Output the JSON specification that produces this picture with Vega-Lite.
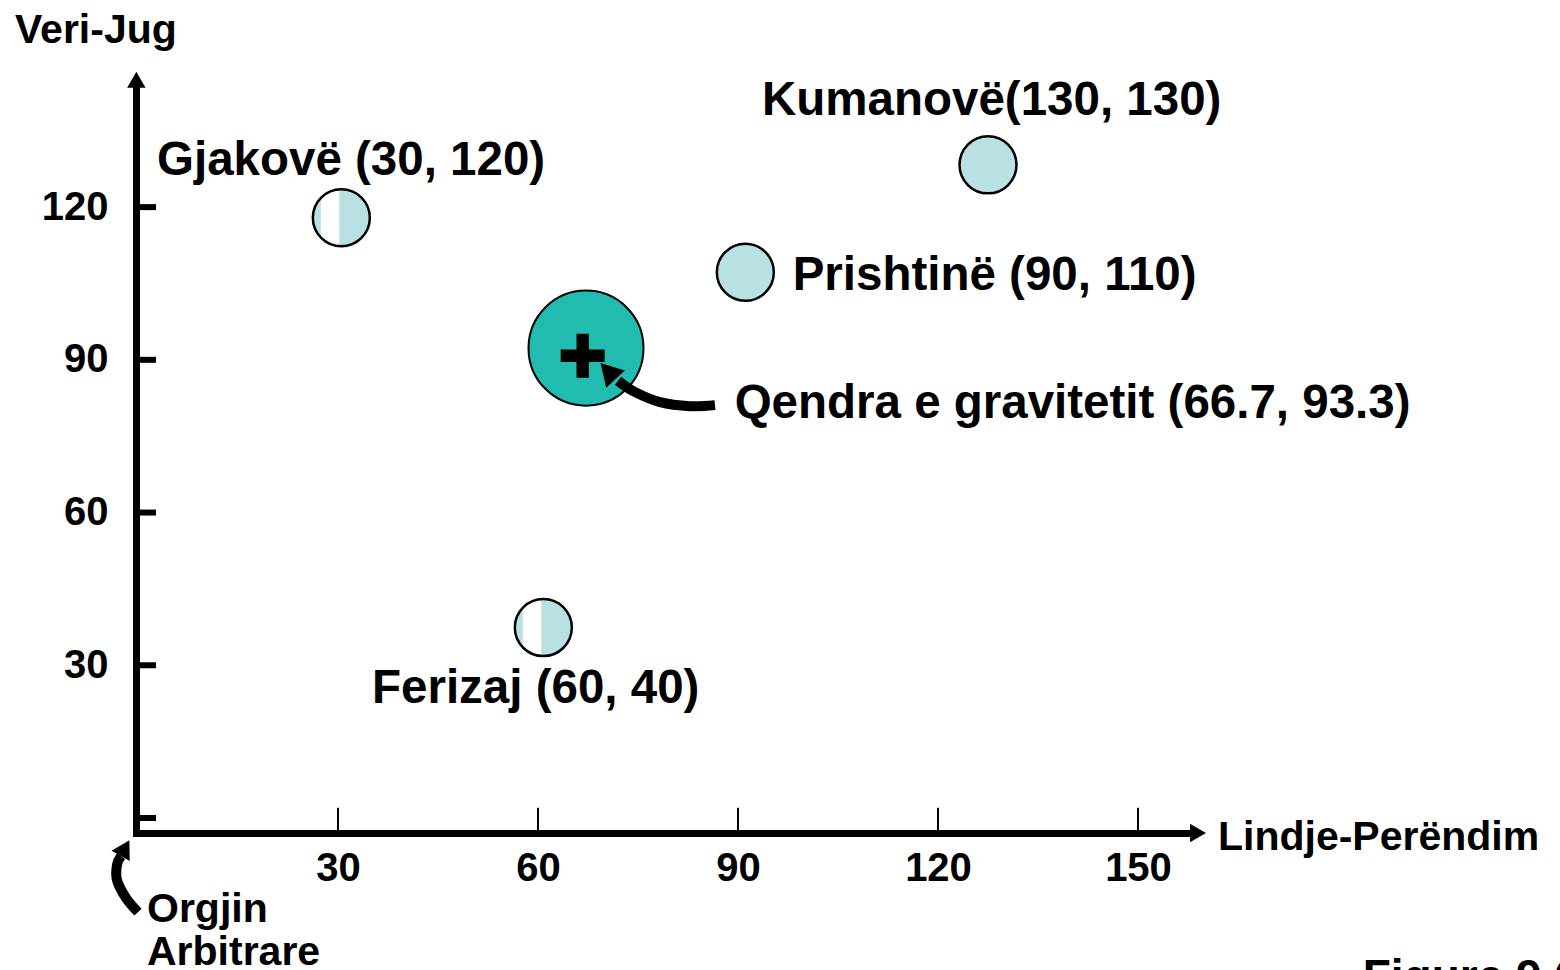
{
  "$schema": "https://vega.github.io/schema/vega-lite/v6.json",
  "width": 1054,
  "height": 745,
  "autosize": {"type": "none"},
  "padding": {"left": 136, "top": 88, "right": 370, "bottom": 137},
  "background": "white",
  "config": {"view": {"stroke": null}, "font": "Liberation Sans"},
  "encoding": {
    "x": {
      "field": "x", "type": "quantitative", "title": null,
      "scale": {"domain": [-0.3, 157.8], "nice": false, "zero": false},
      "axis": {"values": [30, 60, 90, 120, 150], "ticks": false, "tickSize": 0, "grid": false, "title": null,
        "domainWidth": 7, "domainColor": "black", "domainCap": "square",
        "labelFont": "Liberation Sans", "labelFontSize": 40, "labelFontWeight": "bold", "labelColor": "black",
        "labelPadding": 15, "labelFlush": false, "labelOverlap": false}
    },
    "y": {
      "field": "y", "type": "quantitative", "title": null,
      "scale": {"domain": [-2.95, 143.4], "nice": false, "zero": false},
      "axis": {"values": [30, 60, 90, 120], "ticks": false, "tickSize": 0, "grid": false, "title": null,
        "domainWidth": 7, "domainColor": "black", "domainCap": "square",
        "labelFont": "Liberation Sans", "labelFontSize": 40, "labelFontWeight": "bold", "labelColor": "black",
        "labelPadding": 28, "labelFlush": false, "labelOverlap": false}
    }
  },
  "layer": [
    {
      "data": {"values": [
        {"x": 30, "y": -2.95}, {"x": 60, "y": -2.95}, {"x": 90, "y": -2.95},
        {"x": 120, "y": -2.95}, {"x": 150, "y": -2.95}
      ]},
      "mark": {"type": "rule", "color": "black", "strokeWidth": 2},
      "encoding": {"y2": {"datum": 2.0}}
    },
    {
      "data": {"values": [
        {"x": -0.3, "y": 0}, {"x": -0.3, "y": 30}, {"x": -0.3, "y": 60},
        {"x": -0.3, "y": 90}, {"x": -0.3, "y": 120}
      ]},
      "mark": {"type": "rule", "color": "black", "strokeWidth": 6},
      "encoding": {"x2": {"datum": 2.7}}
    },
    {
      "data": {"values": [{"x": -0.25, "y": 145.0, "dir": "up"}, {"x": 159.0, "y": -2.95, "dir": "right"}]},
      "mark": {"type": "point", "filled": true, "color": "black", "size": 341, "opacity": 1},
      "encoding": {"shape": {"field": "dir", "type": "nominal", "scale": {"domain": ["up", "right"], "range": ["triangle-up", "triangle-right"]}, "legend": null}}
    },
    {
      "data": {"name": "cities", "values": [
        {"city": "Gjakovë", "x": 30.5, "y": 117.9, "split": true},
        {"city": "Ferizaj", "x": 60.8, "y": 37.4, "split": true},
        {"city": "Prishtinë", "x": 91.1, "y": 107.2, "split": false},
        {"city": "Kumanovë", "x": 127.5, "y": 128.3, "split": false}
      ]},
      "layer": [
        {"mark": {"type": "point", "shape": "circle", "filled": true, "fill": "#B9E0E3", "strokeWidth": 0, "size": 3249, "opacity": 1}},
        {"transform": [{"filter": "datum.split"}],
         "mark": {"type": "point", "shape": "M-0.72,-0.694 A1,1 0 0,1 -0.07,-0.998 L-0.07,0.998 A1,1 0 0,1 -0.72,0.694 Z", "filled": true, "fill": "white", "strokeWidth": 0, "size": 3249, "opacity": 1}},
        {"mark": {"type": "point", "shape": "circle", "filled": false, "stroke": "black", "strokeWidth": 2.5, "size": 3249, "opacity": 1}}
      ]
    },
    {
      "data": {"values": [{"name": "Qendra e gravitetit", "x": 67.2, "y": 92.3}]},
      "mark": {"type": "point", "shape": "circle", "filled": true, "fill": "#22BBB0", "stroke": "black", "strokeWidth": 2, "size": 13225, "opacity": 1}
    },
    {
      "data": {"values": [{"x": 66.7, "y": 90.8}]},
      "mark": {"type": "point", "shape": "M-1,-0.28 L-0.28,-0.28 L-0.28,-1 L0.28,-1 L0.28,-0.28 L1,-0.28 L1,0.28 L0.28,0.28 L0.28,1 L-0.28,1 L-0.28,0.28 L-1,0.28 Z", "filled": true, "fill": "black", "strokeWidth": 0, "size": 1936, "opacity": 1}
    },
    {
      "data": {"values": [
        {"arrow": "qendra", "ord": 1, "x": 86.55, "y": 81.1},
        {"arrow": "qendra", "ord": 2, "x": 82.8, "y": 80.9},
        {"arrow": "qendra", "ord": 3, "x": 78.3, "y": 81.7},
        {"arrow": "qendra", "ord": 4, "x": 74.5, "y": 83.7},
        {"arrow": "qendra", "ord": 5, "x": 72.0, "y": 85.9},
        {"arrow": "origin", "ord": 1, "x": 0.0, "y": -18.5},
        {"arrow": "origin", "ord": 2, "x": -1.8, "y": -15.7},
        {"arrow": "origin", "ord": 3, "x": -3.15, "y": -12.2},
        {"arrow": "origin", "ord": 4, "x": -3.15, "y": -9.2},
        {"arrow": "origin", "ord": 5, "x": -2.55, "y": -7.5}
      ]},
      "mark": {"type": "line", "color": "black", "strokeWidth": 10, "interpolate": "cardinal", "strokeCap": "butt"},
      "encoding": {"detail": {"field": "arrow", "type": "nominal"}, "order": {"field": "ord", "type": "quantitative"}}
    },
    {
      "data": {"values": [{"x": 70.5, "y": 87.8}]},
      "mark": {"type": "point", "shape": "triangle-up", "angle": 317, "filled": true, "color": "black", "size": 645, "opacity": 1}
    },
    {
      "data": {"values": [{"x": -1.95, "y": -5.9}]},
      "mark": {"type": "point", "shape": "triangle-up", "angle": 29, "filled": true, "color": "black", "size": 432, "opacity": 1}
    },
    {
      "data": {"values": [
        {"t": "Gjakovë (30, 120)", "x": 2.85, "y": 126.3},
        {"t": "Kumanovë(130, 130)", "x": 93.6, "y": 138.1},
        {"t": "Prishtinë (90, 110)", "x": 98.2, "y": 103.7},
        {"t": "Qendra e gravitetit (66.7, 93.3)", "x": 89.5, "y": 78.6},
        {"t": "Ferizaj (60, 40)", "x": 35.1, "y": 22.6}
      ]},
      "mark": {"type": "text", "align": "left", "baseline": "alphabetic", "font": "Liberation Sans", "fontSize": 47.5, "fontWeight": "bold", "color": "black"},
      "encoding": {"text": {"field": "t", "type": "nominal"}}
    },
    {
      "data": {"values": [
        {"t": "Veri-Jug", "x": -18.45, "y": 152.3},
        {"t": "Lindje-Perëndim", "x": 162.0, "y": -6.3},
        {"t": "Orgjin", "x": 1.35, "y": -20.4},
        {"t": "Arbitrare", "x": 1.35, "y": -28.9}
      ]},
      "mark": {"type": "text", "align": "left", "baseline": "alphabetic", "font": "Liberation Sans", "fontSize": 41, "fontWeight": "bold", "color": "black"},
      "encoding": {"text": {"field": "t", "type": "nominal"}}
    },
    {
      "data": {"values": [{"t": "Figure 9.6", "x": 183.7, "y": -34.2}]},
      "mark": {"type": "text", "align": "left", "baseline": "alphabetic", "font": "Liberation Sans", "fontSize": 46, "fontWeight": "bold", "color": "black"},
      "encoding": {"text": {"field": "t", "type": "nominal"}}
    }
  ]
}
